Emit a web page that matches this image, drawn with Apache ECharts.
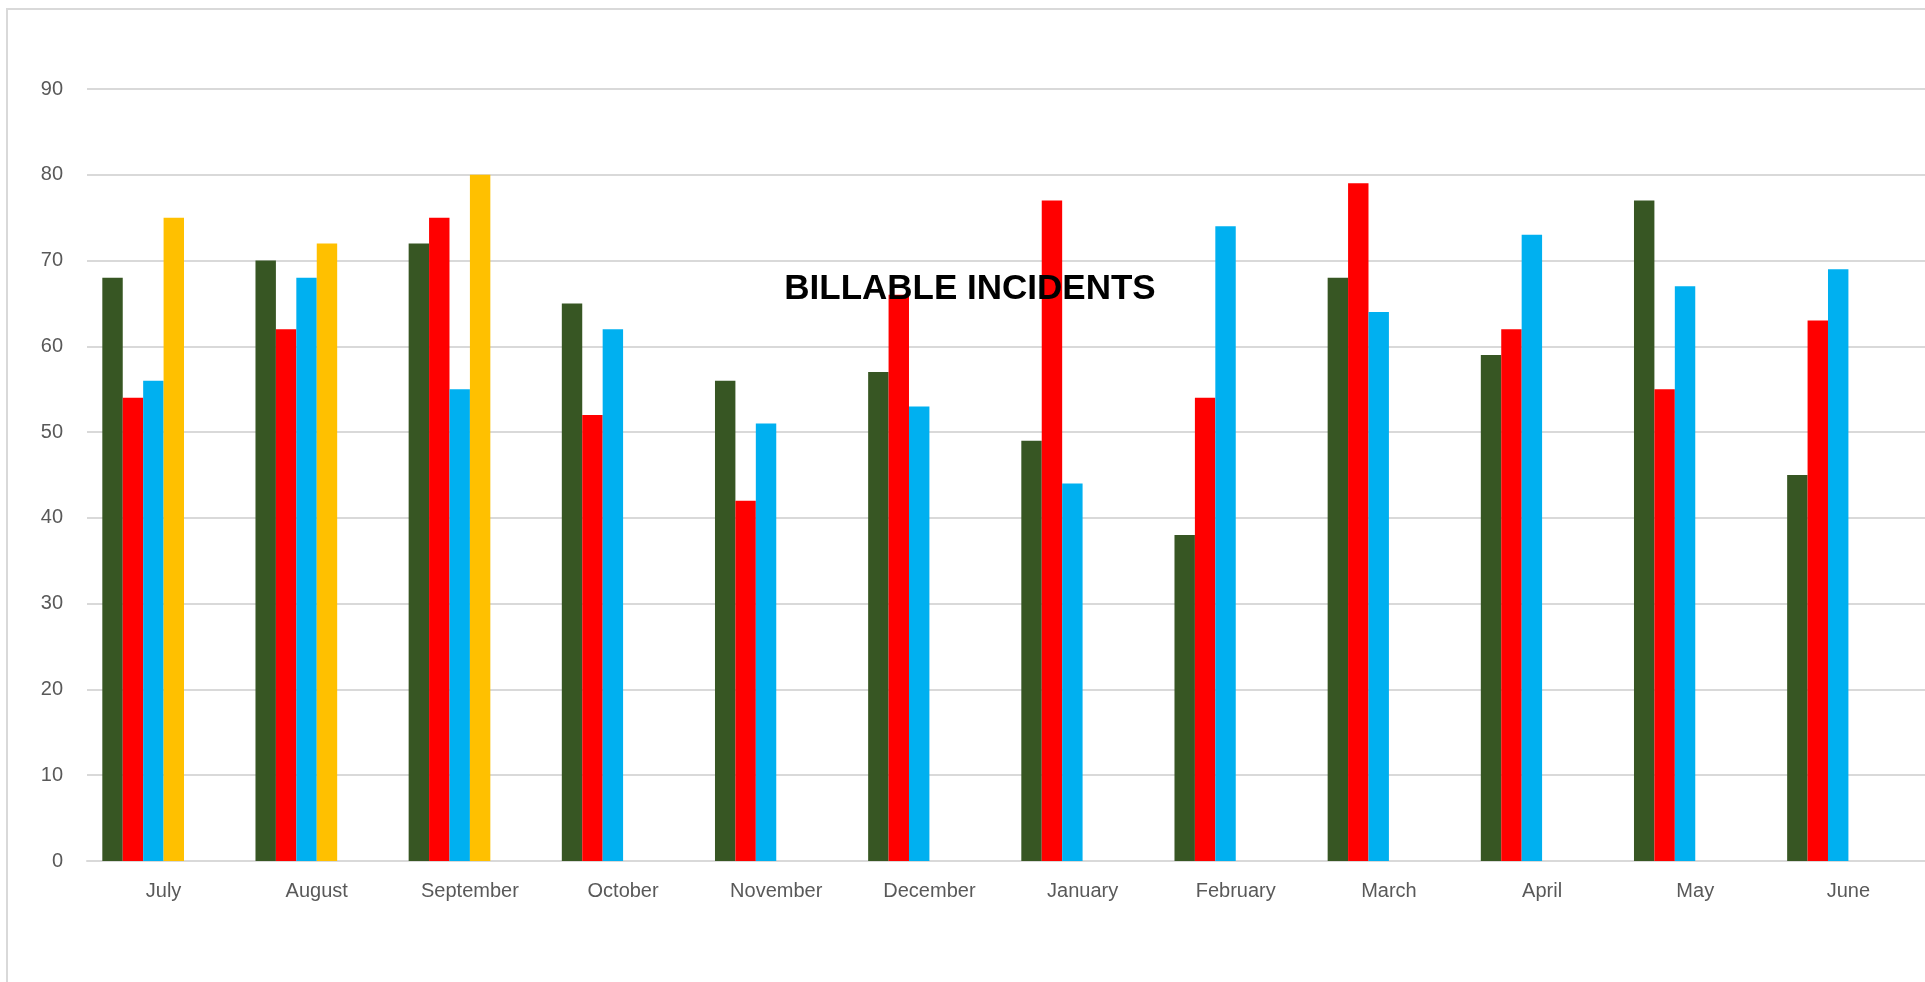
<!DOCTYPE html>
<html>
<head>
<meta charset="utf-8">
<script src="https://cdn.jsdelivr.net/npm/echarts@6/dist/echarts.min.js"></script>
<style>
html,body{margin:0;padding:0;background:#fff;}
#chart{width:1925px;height:982px;}
</style>
</head>
<body>
<div id="chart"></div>
<script>
const months = ['July','August','September','October','November','December','January','February','March','April','May','June'];
const seriesGreen  = [68,70,72,65,56,57,49,38,68,59,77,45];
const seriesRed    = [54,62,75,52,42,66,77,54,79,62,55,63];
const seriesBlue   = [56,68,55,62,51,53,44,74,64,73,67,69];
const seriesYellow = [75,72,80,null,null,null,null,null,null,null,null,null];
const seriesFifth  = [];
const seriesSixth  = [];
const yTicks = {min:0, max:90, interval:10};
const titleText = 'BILLABLE INCIDENTS';

const chart = echarts.init(document.getElementById('chart'), null, {renderer:'canvas'});
const font = '"Liberation Sans", Arial, sans-serif';
function bar(name, data, color){
  return {name, type:'bar', data, barGap:'0%', barCategoryGap:'20%',
    itemStyle:{color}, animation:false};
}
chart.setOption({
  animation:false,
  backgroundColor:'#ffffff',
  grid:{left:87, right:-6, top:89, bottom:121, containLabel:false},
  xAxis:{type:'category', data:months,
    axisLine:{show:true, lineStyle:{color:'#D9D9D9', width:2}},
    axisTick:{show:false},
    axisLabel:{color:'#595959', fontSize:20, fontFamily:font, margin:20}},
  yAxis:{type:'value', min:yTicks.min, max:yTicks.max, interval:yTicks.interval,
    axisLine:{show:false}, axisTick:{show:false},
    splitLine:{lineStyle:{color:'#D9D9D9', width:2}},
    axisLabel:{color:'#595959', fontSize:20, fontFamily:font, margin:24}},
  series:[
    bar('Series1', seriesGreen, '#375623'),
    bar('Series2', seriesRed, '#FF0000'),
    bar('Series3', seriesBlue, '#00B0F0'),
    bar('Series4', seriesYellow, '#FFC000'),
    bar('Series5', seriesFifth, '#7F7F7F'),
    bar('Series6', seriesSixth, '#7F7F7F')
  ],
  graphic:[
    {type:'rect', shape:{x:7, y:9, width:1940, height:1000}, silent:true,
      style:{fill:'none', stroke:'#D9D9D9', lineWidth:2}, z:-1},
    {type:'text', x:970, y:289, z:100,
      style:{text:titleText, fill:'#000000', font:'bold 35px "Liberation Sans", Arial, sans-serif',
        textAlign:'center', textVerticalAlign:'middle'}}
  ]
});
</script>
</body>
</html>
